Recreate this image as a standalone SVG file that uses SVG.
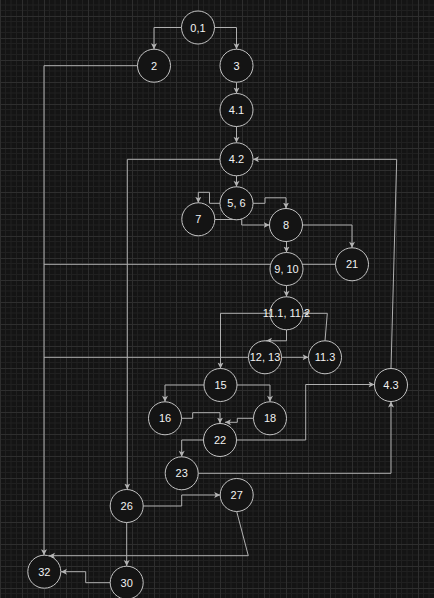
<svg xmlns="http://www.w3.org/2000/svg" width="434" height="598" viewBox="0 0 434 598">
<defs>
<pattern id="grid" x="0" y="16" width="22" height="22" patternUnits="userSpaceOnUse">
<rect width="22" height="22" fill="#141414"/>
<path d="M5.5,0V22M11,0V22M16.5,0V22M0,5.5H22M0,11H22M0,16.5H22" stroke="#202020" stroke-width="1" fill="none"/>
<path d="M0.5,0V22M0,0.5H22" stroke="#2e2e2e" stroke-width="1" fill="none"/>
</pattern>
<marker id="arr" markerUnits="userSpaceOnUse" markerWidth="8" markerHeight="8" refX="6" refY="3" orient="auto">
<path d="M0,0 L6,3 L0,6 L1.5,3 z" fill="#b4b4b4"/>
</marker>
<style>
.n circle{fill:#141414;stroke:#c4c4c4;stroke-width:1}
.n text{fill:#f2f2f2;font-family:"Liberation Sans",Arial,sans-serif;font-size:11px;text-anchor:middle;dominant-baseline:central}
.e path{fill:none;stroke:#b0b0b0;stroke-width:1}
.a{marker-end:url(#arr)}
</style>
</defs>
<rect width="434" height="598" fill="url(#grid)"/>
<g id="connectors" class="e">
<path class="a" d="M181.5,27.5H154V49.2"/>
<path class="a" d="M214.5,27.5H236.5V49.2"/>
<path class="a" d="M236.5,82.2V93.5"/>
<path class="a" d="M236.5,126.5V142.8"/>
<path class="a" d="M236.5,175.8V186.8"/>
<path class="a" d="M220,203.3H209.5V192.3H198.3V202.8"/>
<path class="a" d="M253,203.3H265V197.8H286V208.5"/>
<path class="a" d="M214.8,219.5H241.7V225H269.5"/>
<path class="a" d="M302.5,225H352V247.8"/>
<path class="a" d="M286.5,241.5V252.5"/>
<path d="M335.5,264.3H44"/>
<path class="a" d="M286.5,285.5V296.8"/>
<path class="a" d="M286.5,329.8V340.8H266"/>
<path class="a" d="M270,313.3H220.5V368.5"/>
<path class="a" d="M281.5,357.3H308.5"/>
<path class="a" d="M325,340.8L327.3,313.3H303"/>
<path d="M248.5,357.3H44"/>
<path class="a" d="M137.5,65.7H44V555.2"/>
<path class="a" d="M220,159.3H127.3V489.5"/>
<path class="a" d="M391,368.5L396.7,159.3H253"/>
<path class="a" d="M204,385H165V401.8"/>
<path class="a" d="M237,385H270V401.8"/>
<path class="a" d="M181.5,418.3H192.7V412.7H220V423.5"/>
<path class="a" d="M253.5,418.3H237.3V422.3H225"/>
<path class="a" d="M203.5,440H181.7V456.8"/>
<path class="a" d="M236.5,440H305.7V384.5H374.5"/>
<path class="a" d="M198.2,473.3H391V401.5"/>
<path class="a" d="M143.2,506H181.7V495H220.2"/>
<path class="a" d="M236.7,511.5L248.3,555.7H49"/>
<path class="a" d="M126.7,522.5V566"/>
<path class="a" d="M110.2,582.7H85.7V571.7H61"/>
</g>
<g id="n01" class="n"><circle cx="198" cy="27.5" r="16.5"/><text x="198" y="27.5">0,1</text></g>
<g id="n2" class="n"><circle cx="154" cy="65.7" r="16.5"/><text x="154" y="65.7">2</text></g>
<g id="n3" class="n"><circle cx="236.5" cy="65.7" r="16.5"/><text x="236.5" y="65.7">3</text></g>
<g id="n41" class="n"><circle cx="236.5" cy="110" r="16.5"/><text x="236.5" y="110">4.1</text></g>
<g id="n42" class="n"><circle cx="236.5" cy="159.3" r="16.5"/><text x="236.5" y="159.3">4.2</text></g>
<g id="n56" class="n"><circle cx="236.5" cy="203.3" r="16.5"/><text x="236.5" y="203.3">5, 6</text></g>
<g id="n7" class="n"><circle cx="198.3" cy="219.3" r="16.5"/><text x="198.3" y="219.3">7</text></g>
<g id="n8" class="n"><circle cx="286" cy="225" r="16.5"/><text x="286" y="225">8</text></g>
<g id="n910" class="n"><circle cx="286.5" cy="269" r="16.5"/><text x="286.5" y="269">9, 10</text></g>
<g id="n21" class="n"><circle cx="352" cy="264.3" r="16.5"/><text x="352" y="264.3">21</text></g>
<g id="n111" class="n"><circle cx="286.5" cy="313.3" r="16.5"/><text x="286.5" y="313.3">11.1, 11.2</text></g>
<g id="n1213" class="n"><circle cx="265" cy="357.3" r="16.5"/><text x="265" y="357.3">12, 13</text></g>
<g id="n113" class="n"><circle cx="325" cy="357.3" r="16.5"/><text x="325" y="357.3">11.3</text></g>
<g id="n15" class="n"><circle cx="220.5" cy="385" r="16.5"/><text x="220.5" y="385">15</text></g>
<g id="n16" class="n"><circle cx="165" cy="418.3" r="16.5"/><text x="165" y="418.3">16</text></g>
<g id="n18" class="n"><circle cx="270" cy="418.3" r="16.5"/><text x="270" y="418.3">18</text></g>
<g id="n22" class="n"><circle cx="220" cy="440" r="16.5"/><text x="220" y="440">22</text></g>
<g id="n23" class="n"><circle cx="181.7" cy="473.3" r="16.5"/><text x="181.7" y="473.3">23</text></g>
<g id="n43" class="n"><circle cx="391" cy="385" r="16.5"/><text x="391" y="385">4.3</text></g>
<g id="n26" class="n"><circle cx="126.7" cy="506" r="16.5"/><text x="126.7" y="506">26</text></g>
<g id="n27" class="n"><circle cx="236.7" cy="495" r="16.5"/><text x="236.7" y="495">27</text></g>
<g id="n32" class="n"><circle cx="44.3" cy="571.7" r="16.5"/><text x="44.3" y="571.7">32</text></g>
<g id="n30" class="n"><circle cx="126.7" cy="582.7" r="16.5"/><text x="126.7" y="582.7">30</text></g>
</svg>
